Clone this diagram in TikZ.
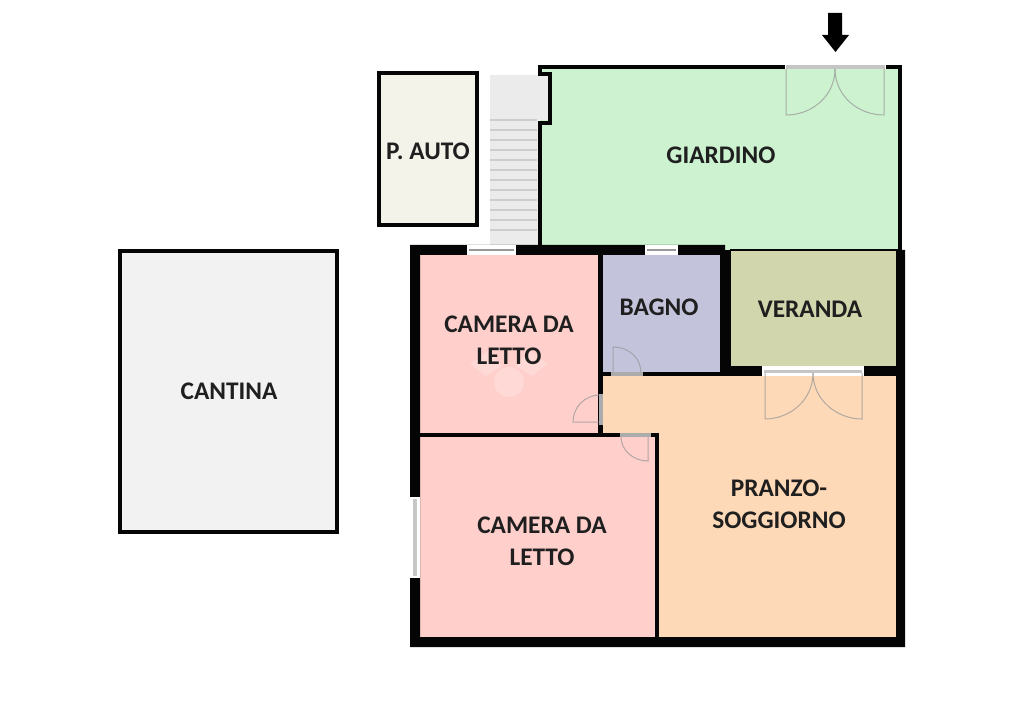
\documentclass[tikz,border=0pt]{standalone}
\usepackage{fontspec}
\setmainfont{Carlito}
\usepackage{tikz}
\definecolor{wallcol}{HTML}{050505}
\definecolor{cantinacol}{HTML}{F2F2F2}
\definecolor{autocol}{HTML}{F4F3EA}
\definecolor{stairscol}{HTML}{EBEBEB}
\definecolor{stepcol}{HTML}{CDCDCD}
\definecolor{giardinocol}{HTML}{CDF2D0}
\definecolor{cameracol}{HTML}{FFCFCB}
\definecolor{bagnocol}{HTML}{C3C3DC}
\definecolor{verandacol}{HTML}{D1D6AC}
\definecolor{pranzocol}{HTML}{FED9B7}
\tikzset{
    roomlabel/.style={font=\bfseries\fontsize{19}{24}\selectfont,text=black!88,align=center,inner sep=0pt},
    thinwall/.style={draw=wallcol,line width=3pt},
    leaf/.style={draw=black!40,line width=0.75pt,opacity=0.75},
    sill/.style={fill=white!75!black,opacity=0.9},
    winglass/.style={fill=white,draw=none},
    winline/.style={draw=black!40,line width=1.3pt},
}
\begin{document}
\begin{tikzpicture}[x=0.75pt,y=-0.75pt]
        \useasboundingbox (0,0) rectangle (1024,723);
        % outside rooms
        \draw[thinwall,fill=cantinacol] (120,251) rectangle (337,532);
        \draw[thinwall,fill=autocol] (379,73.5) rectangle (476.5,225);
        % giardino
        \fill[giardinocol] (540,67) -- (900,67) -- (900,250) -- (540,250) -- cycle;
        \fill[stairscol] (490,75) rectangle (538,245);
        \fill[stairscol] (538,75) rectangle (548,120);
        \foreach \y in {120,130,...,230}
            \draw[stepcol,line width=0.8pt] (490,\y) -- (537,\y);
        \draw[thinwall] (550,74) -- (540,74) -- (540,67) -- (900,67) -- (900,250);
        \draw[thinwall] (550,72.5) -- (550,123) -- (540,123) -- (540,247);
        \draw[wallcol,line width=1.2pt] (730,250) -- (900,250);
        % rooms
        \fill[cameracol] (418,253) rectangle (600,434);
        \fill[cameracol] (418,435) rectangle (657,639);
        \fill[bagnocol] (601,253) rectangle (722,373);
        \fill[verandacol] (729,251) rectangle (897,368);
        \fill[pranzocol] (601,374) -- (897,374) -- (897,639) -- (657,639) -- (657,435) -- (601,435) -- cycle;
        % thick walls
        \fill[wallcol] (410,245) -- (725,245) -- (725,255) -- (420,255) -- (420,637) -- (896,637)
            -- (896,250) -- (905,250) -- (905,647) -- (410,647) -- cycle;
        \fill[wallcol] (720,250) rectangle (731,376);
        \fill[wallcol] (720,366) rectangle (896,376);
        % thin walls
        \draw[thinwall,line width=3.2pt] (600.5,255) -- (600.5,433);
        \draw[thinwall] (600,374) -- (722,374);
        \draw[thinwall] (420,435) -- (659,435);
        \draw[thinwall,line width=3.6pt] (657,433) -- (657,637);
        % windows
        \fill[winglass] (467,245) rectangle (516,255);
        \draw[winline] (469,250) -- (514,250);
        \fill[winglass] (645,245) rectangle (678,255);
        \draw[winline] (647,250) -- (676,250);
        \fill[winglass] (410,497) rectangle (420,578);
        \draw[winline,line width=3pt,draw=black!22] (415,499) -- (415,576);
        % doors
        \fill[winglass] (785,64.5) rectangle (886,69.5);
        \fill[sill] (786,65.5) rectangle (885,69);
        \draw[leaf] (786,69) -- (786,115) .. controls (813,115) and (835,95) .. (835,69);
        \draw[leaf] (884,69) -- (884,115) .. controls (857,115) and (835,95) .. (835,69);
        \fill[winglass] (762,366) rectangle (864,376);
        \fill[sill] (764,370) rectangle (862,373.5);
        \draw[leaf] (765,373) -- (765,419) .. controls (790,419) and (813,400) .. (813,373);
        \draw[leaf] (862,373) -- (862,419) .. controls (837,419) and (813,400) .. (813,373);
        \fill[sill] (611,372) rectangle (643,376);
        \draw[leaf] (613,373) -- (613,347) .. controls (629,347) and (641,358) .. (641,373);
        \fill[sill] (598.5,394) rectangle (603,425);
        \draw[leaf] (600,422) -- (573,422) .. controls (573,407) and (585,395) .. (600,395);
        \fill[sill] (620,433) rectangle (651,437);
        \draw[leaf] (648,437) -- (648,461) .. controls (633,461) and (621,450) .. (621,437);
        % logo
        \fill[white,opacity=0.22] (509,382) circle (15);
        \fill[white,opacity=0.22] (470,364) -- (489,350) -- (502,366) -- (486,376) -- cycle;
        \fill[white,opacity=0.22] (548,364) -- (529,350) -- (516,366) -- (532,376) -- cycle;
        % entrance
        \fill[black] (828,13) -- (842,13) -- (842,35) -- (849,35) -- (835.5,52) -- (822,35) -- (828,35) -- cycle;
        % labels
        \node[roomlabel] (cantina) at (229,391) {CANTINA};
        \node[roomlabel] (auto) at (428,151) {P. AUTO};
        \node[roomlabel] (giardino) at (721,155) {GIARDINO};
        \node[roomlabel] (camera1) at (509,340) {CAMERA DA\\LETTO};
        \node[roomlabel] (bagno) at (659,307) {BAGNO};
        \node[roomlabel] (veranda) at (810,309) {VERANDA};
        \node[roomlabel] (pranzo) at (779,504) {PRANZO-\\SOGGIORNO};
        \node[roomlabel] (camera2) at (542,541) {CAMERA DA\\LETTO};
\end{tikzpicture}
\end{document}
